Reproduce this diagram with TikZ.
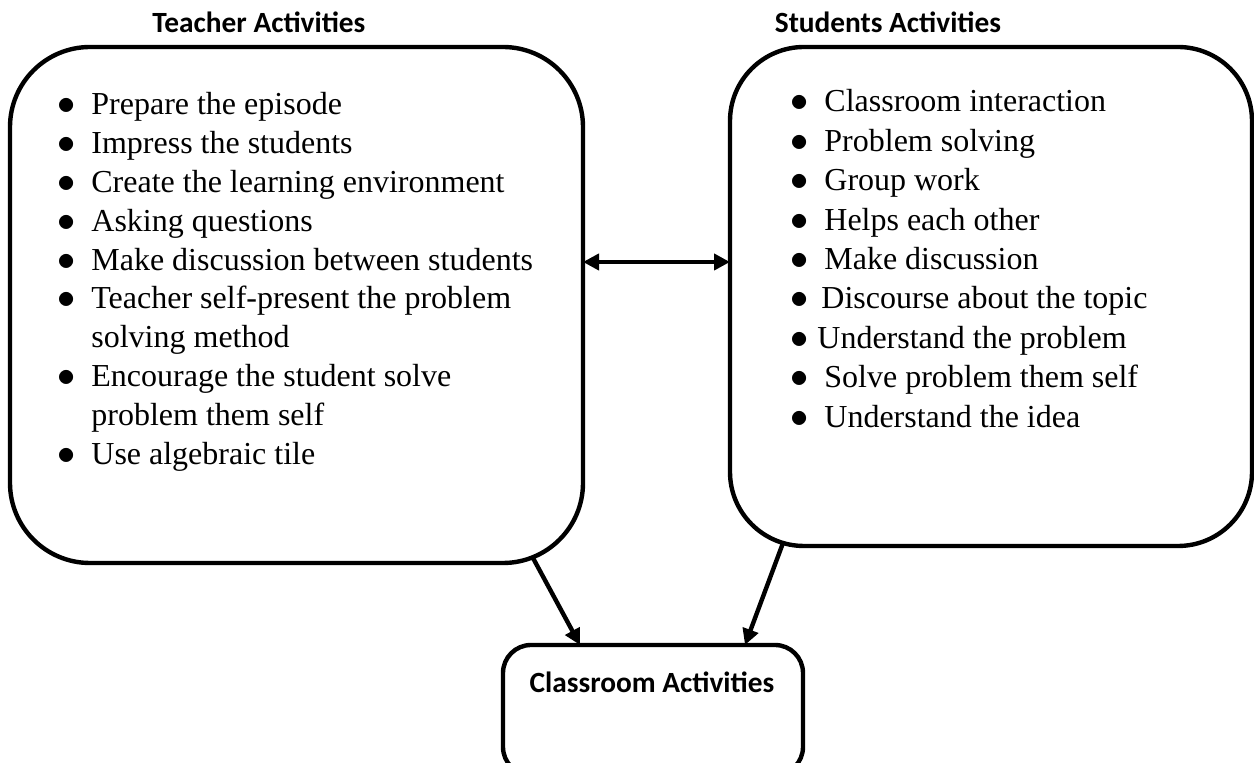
\documentclass[tikz,border=0pt]{standalone}
\usepackage{fontspec}
\setmainfont{Liberation Serif}
\newfontfamily\headfont{Carlito}
\usepackage{tikz}
\usetikzlibrary{arrows.meta, calc, positioning}

\newcommand{\dotmark}{\hspace*{1pt}\scalebox{1.05}{$\bullet$}}
\newcommand{\bitem}[2][18pt]{\makebox[#1][l]{\dotmark}#2}
\newcommand{\cont}[2][18pt]{\hspace*{#1}#2}

\tikzset{
  bigbox/.style={draw, line width=2.2pt, rounded corners=40pt, inner sep=0pt, outer sep=0pt, anchor=north west},
  smallbox/.style={draw, line width=2.2pt, rounded corners=14pt, inner sep=0pt, outer sep=0pt, anchor=north west},
  headtext/.style={font=\headfont\bfseries\fontsize{14.67pt}{17pt}\selectfont, inner sep=0pt},
  listtext/.style={inner sep=0pt, anchor=base west},
  bigtip/.tip={Triangle[length=8pt, width=8pt]},
  conn/.style={line width=2.2pt, -bigtip}
}

\begin{document}
\begin{tikzpicture}[x=0.5pt, y=-0.5pt]
            \useasboundingbox (0,0) rectangle (1254,763);
            \clip (0,0) rectangle (1254,763);
            \node[headtext] (teacherhead) at (259,22) {Teacher Activities};
            \node[headtext] (studenthead) at (888,22) {Students Activities};
            \node[bigbox, minimum width=286.5pt, minimum height=258pt] (teacher) at (10,47) {};
            \node[bigbox, rounded corners=37pt, minimum width=261pt, minimum height=249.5pt] (students) at (730,47) {};
            \node[smallbox, minimum width=150pt, minimum height=65pt] (classroom) at (503,645) {};
            \node[headtext] (classlabel) at (652,682) {Classroom Activities};
            \node[listtext] (teacherlist) at (55,115) {\fontsize{16pt}{19.4pt}\selectfont
              \begin{tabular}[t]{@{}l@{}}
              \bitem{Prepare the episode}\\
              \bitem{Impress the students}\\
              \bitem{Create the learning environment}\\
              \bitem{Asking questions}\\
              \bitem{Make discussion between students}\\
              \bitem{Teacher self-present the problem}\\
              \cont{solving method}\\
              \bitem{Encourage the student solve}\\
              \cont{problem them self}\\
              \bitem{Use algebraic tile}
              \end{tabular}};
            \node[listtext] (studentlist) at (788,112) {\fontsize{16pt}{19.7pt}\selectfont
              \begin{tabular}[t]{@{}l@{}}
              \bitem{Classroom interaction}\\
              \bitem{Problem solving}\\
              \bitem{Group work}\\
              \bitem{Helps each other}\\
              \bitem{Make discussion}\\
              \bitem[16.5pt]{Discourse about the topic}\\
              \bitem[14.5pt]{Understand the problem}\\
              \bitem{Solve problem them self}\\
              \bitem{Understand the idea}
              \end{tabular}};
            \coordinate (arrowrow) at (650,262);
            \draw[line width=2.2pt, bigtip-bigtip] (teacher.east |- arrowrow) -- (students.west |- arrowrow);
            \draw[conn] ($(teacher.south east)+(-50,-5)$) -- ($(classroom.north west)+(77,0)$);
            \draw[conn] ($(students.south west)+(53,-3)$) -- ($(classroom.north east)+(-58,0)$);
        \end{tikzpicture}
\end{document}
